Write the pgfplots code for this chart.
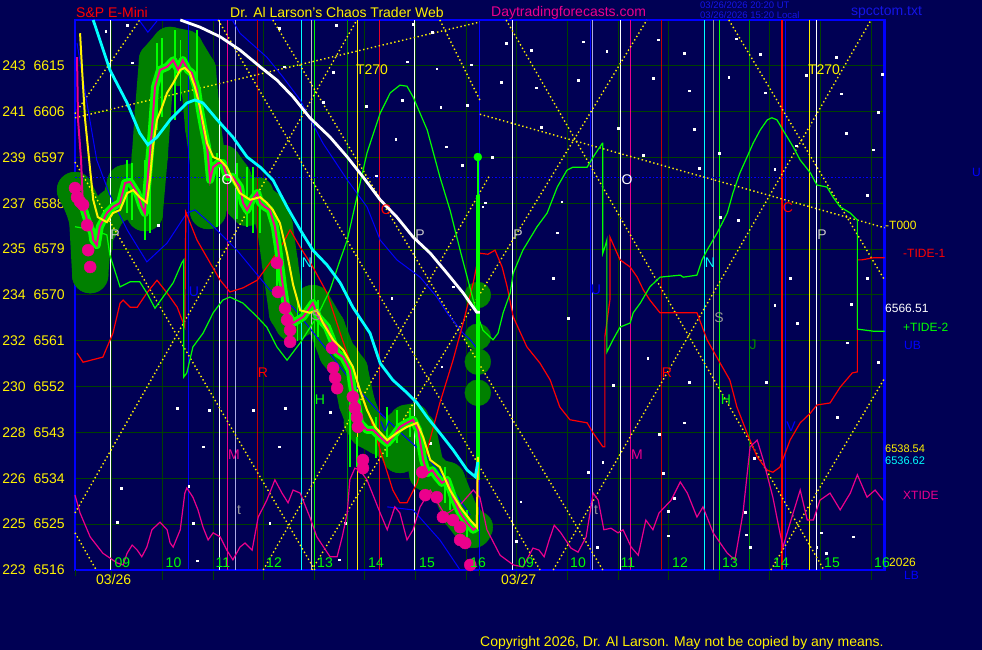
\documentclass[border=0pt]{standalone}
\usepackage{pgfplots}
\pgfplotsset{compat=1.18}
\usepackage{pgfplotstable}
\usepackage{fontspec}
\setmainfont{Liberation Sans}
\definecolor{bg}{RGB}{0,0,84}
\definecolor{gridg}{RGB}{0,64,0}
\definecolor{halo}{RGB}{0,128,0}
\definecolor{bgreen}{RGB}{0,255,0}
\definecolor{dred}{RGB}{192,0,0}
\definecolor{lav}{RGB}{170,170,230}
\definecolor{greyl}{RGB}{190,190,200}
\definecolor{lblue}{RGB}{0,0,255}
\definecolor{dgreen}{RGB}{0,140,0}
\definecolor{crim}{RGB}{230,0,40}
\definecolor{tblue}{RGB}{20,20,230}
\definecolor{ltgrey}{RGB}{200,200,200}
\definecolor{mgrey}{RGB}{150,150,150}
\definecolor{cyn}{RGB}{0,255,255}
\newcommand\fs{\fontsize{14bp}{16bp}\selectfont}
\newcommand\fss{\fontsize{12bp}{14bp}\selectfont}
\newcommand\fst{\fontsize{9.5bp}{11bp}\selectfont}
\newcommand\vl[2]{\addplot[#1,line width=1bp] coordinates {(#2,6516) (#2,6624)};}
\newcommand\spk[3]{\addplot[bgreen,line width=1.5bp] coordinates {(#1,#2) (#1,#3)};}
\newcommand\T[5]{\node[anchor=#1,text=#2,inner sep=0pt,font=\fs] at (#3bp,{650bp-#4bp}) {#5};}
\newcommand\Ts[5]{\node[anchor=#1,text=#2,inner sep=0pt,font=\fss] at (#3bp,{650bp-#4bp}) {#5};}
\pgfplotsset{ydot/.style={yellow, line width=1.4bp, dash pattern=on 1.4bp off 2.6bp, mark=none}}

\pgfplotstableread{
x y
0.04 6616.7
0.06 6604.4
0.12 6596.5
0.14 6591.2
0.16 6587.3
}\pricehead

\pgfplotstableread{
x y
0.16 6587.3
0.24 6584.7
0.34 6582.2
0.36 6580.8
0.43 6579.8
0.49 6583.4
0.63 6586.1
0.75 6587.3
0.89 6588.1
0.99 6592.0
1.09 6592.2
1.23 6590.0
1.32 6587.3
1.38 6586.1
1.44 6593.2
1.52 6602.4
1.58 6610.8
1.68 6614.2
1.82 6614.8
1.94 6616.1
2.04 6614.2
2.13 6616.1
2.23 6614.2
2.31 6613.6
2.41 6610.3
2.47 6606.3
2.53 6603.0
2.61 6599.1
2.67 6592.6
2.73 6595.1
2.83 6595.9
2.92 6595.9
3.00 6593.2
3.12 6593.2
3.26 6591.2
3.32 6588.1
3.40 6586.7
3.50 6588.7
3.60 6590.0
3.66 6588.1
3.75 6587.3
3.85 6586.7
3.95 6583.4
4.01 6579.4
4.05 6576.3
4.11 6571.6
4.19 6566.5
4.31 6564.5
4.51 6565.7
4.70 6568.4
4.80 6565.7
4.98 6563.7
5.08 6561.2
5.18 6558.6
5.30 6557.8
5.43 6555.3
5.49 6551.3
5.57 6548.8
5.63 6544.9
5.77 6543.5
5.89 6543.5
6.03 6542.1
6.17 6540.9
6.28 6542.1
6.42 6544.1
6.56 6544.9
6.68 6545.5
6.78 6543.5
6.88 6537.6
6.96 6535.0
7.06 6535.6
7.15 6534.3
7.25 6533.1
7.35 6533.7
7.47 6530.3
7.61 6527.2
7.75 6525.2
7.87 6523.9
7.94 6524.4
}\price

\pgfplotstableread{
x y
0.00 6590.6
0.16 6587.3
0.24 6584.7
0.30 6573.9
0.36 6580.8
0.49 6583.4
0.63 6586.1
0.75 6587.3
0.89 6588.1
0.99 6592.0
1.09 6592.2
1.23 6590.0
1.32 6587.3
1.38 6586.1
1.48 6597.5
1.54 6606.2
1.62 6616.1
1.88 6619.1
2.17 6618.5
2.43 6614.2
2.53 6603.0
2.63 6595.9
2.63 6586.5
2.73 6595.1
2.92 6595.9
3.12 6593.2
3.32 6588.1
3.50 6588.7
3.66 6588.1
3.85 6586.7
3.95 6583.4
4.05 6576.3
4.19 6566.5
4.31 6564.5
4.51 6565.7
4.70 6568.4
4.98 6563.7
5.18 6558.6
5.43 6555.3
5.57 6548.8
5.77 6543.5
6.03 6542.1
6.28 6542.1
6.42 6538.6
6.56 6544.9
6.78 6543.5
6.96 6535.0
7.15 6534.3
7.35 6533.7
7.61 6527.2
7.87 6523.9
}\halopath

\pgfplotstableread{
x y
0.10 6621.4
0.14 6614.2
0.20 6604.4
0.30 6594.5
0.36 6588.7
0.45 6585.3
0.63 6584.3
0.75 6586.1
0.89 6586.7
1.03 6590.0
1.15 6590.6
1.28 6589.2
1.42 6588.1
1.48 6592.6
1.54 6599.1
1.62 6604.4
1.72 6606.9
1.82 6609.7
1.94 6611.6
2.08 6614.2
2.17 6614.6
2.27 6613.6
2.37 6610.8
2.47 6606.9
2.61 6599.8
2.73 6597.1
2.87 6596.5
3.00 6595.1
3.12 6592.6
3.26 6590.0
3.46 6588.7
3.66 6589.2
3.79 6588.1
3.91 6586.7
4.05 6584.1
4.19 6578.2
4.31 6572.0
4.45 6567.0
4.64 6566.5
4.78 6567.0
4.90 6564.5
5.10 6561.2
5.30 6559.2
5.49 6555.9
5.63 6551.3
5.77 6547.4
5.93 6544.1
6.17 6541.5
6.36 6542.9
6.56 6544.1
6.76 6544.9
6.88 6542.1
7.02 6537.6
7.21 6536.2
7.41 6531.7
7.61 6528.4
7.81 6525.8
7.94 6524.4
7.96 6538.2
}\yellowma

\pgfplotstableread{
x y
0.36 6624.0
0.69 6614.2
1.03 6607.7
1.28 6601.8
1.44 6599.5
1.62 6601.0
1.88 6604.4
2.21 6607.7
2.37 6608.3
2.53 6607.7
2.81 6604.4
3.12 6601.0
3.40 6597.1
3.66 6595.1
3.91 6592.6
4.19 6587.3
4.45 6582.8
4.70 6578.8
4.98 6575.9
5.24 6572.4
5.49 6567.6
5.83 6562.5
6.03 6556.6
6.28 6553.3
6.56 6550.8
6.76 6548.8
6.96 6546.0
7.21 6542.9
7.47 6539.6
7.75 6535.6
7.91 6534.3
7.96 6537.2
}\cyanma

\pgfplotstableread{
x y
2.08 6624.0
2.47 6622.6
2.87 6620.7
3.26 6618.1
3.66 6614.8
3.99 6612.2
4.31 6608.9
4.64 6604.8
5.04 6601.0
5.38 6597.1
5.69 6593.2
6.03 6588.7
6.36 6585.3
6.68 6581.4
7.02 6578.2
7.35 6574.3
7.67 6570.4
7.94 6566.6
8.00 6566.6
}\whitema

\pgfplotstableread{
x y
0.04 6558.6
0.16 6556.8
0.55 6557.8
0.75 6562.5
0.89 6568.4
0.95 6569.0
1.09 6567.6
1.23 6567.6
1.42 6570.4
1.62 6572.9
1.82 6570.4
2.02 6567.6
2.17 6563.7
2.19 6586.3
2.23 6585.3
2.41 6580.8
2.67 6576.3
2.87 6572.9
3.06 6570.6
3.32 6571.4
3.60 6572.9
3.85 6576.3
4.11 6580.2
4.25 6582.8
4.45 6579.4
4.70 6575.5
4.98 6570.4
5.24 6562.5
5.49 6555.3
5.83 6546.0
6.03 6539.6
6.28 6531.7
6.42 6529.2
6.56 6529.2
6.76 6533.1
6.96 6539.6
7.21 6548.8
7.47 6557.2
7.67 6564.5
7.87 6572.4
7.96 6576.9
8.00 6578.2
8.16 6578.0
8.30 6578.8
8.44 6575.5
8.54 6571.6
8.66 6565.7
8.93 6559.8
9.19 6556.6
9.39 6553.3
9.58 6548.0
9.78 6545.5
10.12 6544.9
10.24 6542.9
10.43 6540.2
10.47 6540.2
10.47 6561.8
10.57 6569.0
10.57 6581.4
10.77 6576.9
10.97 6575.5
11.11 6573.5
11.23 6571.0
11.36 6569.0
11.56 6566.5
11.96 6566.5
12.29 6566.5
12.49 6561.2
12.75 6556.6
12.94 6553.3
13.08 6548.0
13.28 6542.9
13.48 6538.2
13.68 6535.6
13.79 6535.2
13.93 6536.2
14.13 6541.5
14.33 6544.9
14.53 6546.8
14.66 6548.4
14.92 6548.8
15.12 6551.9
15.36 6554.7
15.46 6554.9
15.46 6576.9
15.55 6576.9
15.77 6577.3
16.00 6577.3
}\tideone

\pgfplotstableread{
x y
0.00 6583.4
0.36 6582.8
0.63 6581.8
0.69 6577.8
0.89 6571.6
1.09 6572.6
1.28 6572.6
1.42 6570.4
1.58 6567.4
1.74 6569.6
1.94 6572.4
2.11 6576.3
2.15 6576.9
2.15 6553.9
2.21 6554.7
2.33 6559.8
2.53 6562.5
2.73 6566.5
2.92 6569.0
3.06 6569.6
3.32 6568.4
3.60 6565.7
3.79 6563.7
3.99 6559.8
4.19 6557.2
4.45 6560.6
4.78 6565.7
5.04 6571.0
5.24 6576.9
5.38 6580.8
5.57 6589.2
5.77 6597.9
6.03 6605.7
6.23 6609.7
6.42 6611.2
6.56 6611.0
6.68 6608.9
6.96 6602.4
7.21 6593.2
7.41 6586.7
7.61 6578.8
7.75 6573.5
7.87 6569.0
7.94 6566.5
8.06 6563.1
8.26 6561.2
8.36 6562.5
8.46 6566.5
8.60 6570.4
8.66 6574.3
8.85 6578.8
9.13 6583.4
9.33 6586.1
9.53 6591.2
9.72 6594.5
9.84 6595.1
10.12 6595.1
10.24 6597.1
10.42 6599.8
10.43 6599.8
10.43 6578.2
10.47 6579.4
10.51 6580.8
10.51 6558.8
10.63 6561.2
10.77 6563.7
10.97 6564.5
11.03 6566.5
11.17 6568.4
11.36 6571.6
11.56 6573.5
11.96 6573.9
12.02 6573.5
12.29 6573.9
12.39 6576.9
12.49 6578.8
12.69 6582.2
12.89 6586.1
13.00 6590.0
13.14 6594.0
13.28 6597.1
13.40 6599.8
13.54 6602.4
13.68 6604.4
13.77 6604.8
13.87 6604.4
13.99 6602.4
14.19 6599.1
14.33 6596.5
14.53 6594.0
14.66 6591.6
14.86 6591.2
14.98 6589.2
15.12 6587.3
15.32 6586.1
15.42 6585.1
15.46 6584.7
15.46 6563.3
15.77 6562.9
16.00 6562.9
}\tidetwo

\pgfplotstableread{
x y
0.00 6530.7
0.10 6527.2
0.30 6522.5
0.55 6519.3
0.83 6517.4
0.95 6517.0
1.03 6519.3
1.13 6520.9
1.23 6519.9
1.32 6518.6
1.42 6520.5
1.52 6523.9
1.68 6525.4
1.82 6523.9
1.88 6521.3
1.94 6520.5
2.08 6523.9
2.17 6531.1
2.21 6532.1
2.33 6530.3
2.43 6527.8
2.53 6524.4
2.63 6521.9
2.73 6523.3
2.87 6522.5
3.00 6519.9
3.12 6518.0
3.26 6520.5
3.36 6521.3
3.50 6519.9
3.62 6526.4
3.79 6529.7
3.95 6533.7
4.09 6531.1
4.21 6529.2
4.31 6531.7
4.45 6531.1
4.64 6526.4
4.78 6522.5
5.04 6518.6
5.18 6518.6
5.28 6522.5
5.38 6527.2
5.43 6533.7
5.53 6536.0
5.63 6535.6
5.77 6533.7
6.03 6527.2
6.17 6523.9
6.32 6528.4
6.42 6527.2
6.56 6521.9
6.68 6523.9
6.82 6528.4
7.02 6531.7
7.31 6526.8
7.61 6528.8
7.87 6531.7
8.00 6530.3
8.14 6523.9
8.40 6518.9
8.66 6517.0
8.85 6516.6
9.05 6520.3
9.17 6519.9
9.27 6518.6
9.37 6521.9
9.47 6524.8
9.60 6523.3
9.80 6520.3
9.94 6519.5
10.10 6522.5
10.24 6531.1
10.34 6529.7
10.45 6523.9
10.59 6524.2
10.73 6523.3
10.83 6523.9
10.99 6520.5
11.13 6518.9
11.28 6525.8
11.42 6523.9
11.54 6527.2
11.78 6529.7
11.96 6533.3
12.10 6531.1
12.29 6526.4
12.41 6528.4
12.61 6523.3
12.89 6519.3
13.04 6518.0
13.20 6527.2
13.34 6540.2
13.48 6541.5
13.60 6537.6
13.79 6530.3
13.93 6523.3
13.99 6520.5
14.13 6525.2
14.33 6531.7
14.47 6525.8
14.59 6525.8
14.72 6529.7
14.92 6531.1
15.12 6527.8
15.32 6531.1
15.46 6534.7
15.65 6530.3
15.81 6531.7
15.97 6529.7
}\xtide

\begin{document}
\begin{tikzpicture}
\fill[bg] (0,0) rectangle (982bp,650bp);
\begin{axis}[
  at={(75bp,80bp)}, anchor=south west, scale only axis,
  width=809.7bp, height=550bp,
  xmin=0, xmax=16, ymin=6516, ymax=6624,
  clip=false, clip marker paths=true,
  axis line style={draw=lblue, line width=2.5bp},
  xtick={0.73,1.73,2.73,3.73,4.73,5.73,6.73,7.73,8.73,9.73,10.73,11.73,12.73,13.73,14.73,15.73},
  xticklabels={},
  ytick={6516,6525,6534,6543,6552,6561,6570,6579,6588,6597,6606,6615},
  yticklabels={{223\hspace{8bp}6516},{225\hspace{8bp}6525},{226\hspace{8bp}6534},{228\hspace{8bp}6543},{230\hspace{8bp}6552},{232\hspace{8bp}6561},{234\hspace{8bp}6570},{235\hspace{8bp}6579},{237\hspace{8bp}6588},{239\hspace{8bp}6597},{241\hspace{8bp}6606},{243\hspace{8bp}6615}},
  grid=major, major grid style={draw=gridg, line width=1bp},
  tick align=outside, major tick length=10bp,
  xtick pos=bottom, ytick pos=left,
  xtick style={draw=gridg, line width=1bp},
  ytick style={draw=none},
  yticklabel style={text=yellow, font=\fs, inner sep=0pt},
  extra x ticks={0,8}, extra x tick labels={03/26,03/27},
  extra x tick style={grid=none, major tick length=6bp, tick style={draw=ltgrey, line width=1bp},
     xticklabel style={text=yellow, font=\fs, anchor=north west, inner sep=0pt, xshift=21bp, yshift=2bp}},
]
% halo
\addplot[halo, line width=36bp, line join=round, line cap=round] table {\halopath};
\addplot[only marks, mark=*, mark size=18bp, mark options={draw=halo, fill=halo}] table {\halopath};
\addplot[only marks, mark=*, mark size=16bp, mark options={draw=halo, fill=halo}] table {\price};
\addplot[only marks, mark=*, mark size=13bp, mark options={draw=halo, fill=halo}] coordinates {
(7.96,6570.0) (7.96,6561.8) (7.96,6556.9) (7.96,6550.8)};
% vertical lines
\vl{white}{0.70}
\vl{lblue}{2.24}
\vl{white}{2.85}
\vl{magenta}{3.01}
\vl{lav}{3.17}
\vl{dred}{3.60}
\vl{cyn}{4.47}
\vl{greyl}{4.68}
\vl{bgreen}{4.73}
\vl{dgreen}{5.39}
\vl{yellow}{5.58}
\vl{crim}{6.02}
\vl{white}{6.71}
\vl{lblue}{8.00}
\vl{white}{8.64}
\vl{lblue}{10.19}
\vl{lav}{10.23}
\vl{white}{10.78}
\vl{magenta}{10.97}
\vl{dred}{11.59}
\vl{cyn}{12.44}
\vl{mgrey}{12.61}
\vl{bgreen}{12.73}
\vl{dgreen}{13.33}
\addplot[red,line width=2bp] coordinates {(13.98,6516) (13.98,6624)};
\vl{lblue}{14.04}
\vl{yellow}{14.51}
\vl{white}{14.65}
% blue dotted horizontal
\addplot[lblue, line width=1bp, dash pattern=on 1.5bp off 2bp] coordinates {(0,6593.0) (16,6593.0)};
% dotted yellow lines
\addplot[ydot] coordinates {(0,6604.8) (8,6623.6)};
\addplot[ydot] coordinates {(0,6527.2) (5.57,6624)};
\addplot[ydot] coordinates {(0,6605.6) (1.28,6624)};
\addplot[ydot] coordinates {(0,6523.3) (0.42,6516)};
\addplot[ydot] coordinates {(2.83,6624) (9.19,6516)};
\addplot[ydot] coordinates {(0,6596.1) (4.74,6516)};
\addplot[ydot] coordinates {(3.72,6516) (8.20,6593.6)};
\addplot[ydot] coordinates {(7.21,6624) (8.00,6608.3)};
\addplot[ydot] coordinates {(8,6605.5) (16,6583.2)};
\addplot[ydot] coordinates {(8.52,6624) (14.80,6516)};
\addplot[ydot] coordinates {(4.68,6516) (11.30,6624)};
\addplot[ydot] coordinates {(3.91,6624) (10.43,6516)};
\addplot[ydot] coordinates {(9.45,6516) (15.73,6624)};
\addplot[ydot] coordinates {(12.92,6624) (16,6572.9)};
\addplot[ydot] coordinates {(13.75,6516) (16,6553.7)};
% stars
\addplot[only marks, mark=square*, mark size=0.8bp, white] coordinates {
(0.61,6621.8) (1.03,6623.0) (1.13,6615.6) (4.03,6622.4) (5.10,6613.8) (6.56,6615.8) (6.68,6623.2) (7.06,6621.6)
(7.23,6606.9) (7.75,6607.3) (7.83,6615.2) (8.52,6619.5) (9.01,6618.1) (8.42,6611.8) (9.11,6610.7) (9.94,6612.2)
(10.04,6619.7) (10.51,6617.9) (11.42,6612.6) (11.52,6620.1) (12.04,6617.5) (12.14,6610.1) (12.92,6612.8) (13.06,6620.3)
(13.54,6617.3) (13.64,6609.7) (14.45,6613.2) (15.04,6616.7) (15.14,6609.5) (15.87,6605.9) (15.95,6613.4) (9.21,6603.0)
(8.24,6597.1) (8.10,6588.1) (9.62,6588.3) (9.53,6582.2) (9.45,6573.3) (10.73,6602.8) (11.23,6597.5) (12.23,6602.6)
(12.33,6594.9) (12.73,6597.9) (12.75,6585.3) (13.10,6584.7) (13.83,6594.7) (14.25,6599.3) (15.24,6601.8) (15.65,6589.6)
(15.77,6598.5) (15.65,6573.3) (14.13,6573.3) (9.74,6565.5) (10.14,6535.2) (10.63,6552.3) (10.43,6537.2) (11.32,6557.6)
(11.54,6542.7) (11.62,6535.0) (12.04,6544.9) (12.14,6552.9) (11.72,6522.7) (13.42,6538.0) (13.66,6552.9) (13.83,6568.0)
(14.27,6564.5) (15.06,6546.0) (15.26,6560.6) (15.34,6568.2) (15.87,6556.8) (15.38,6522.5) (14.66,6520.5) (13.34,6520.5)
(1.64,6583.7) (2.02,6547.8) (2.65,6547.4) (2.53,6540.2) (2.25,6532.5) (2.41,6517.8) (3.52,6547.4) (4.03,6540.2)
(3.85,6525.2) (4.15,6547.8) (5.04,6547.0) (6.26,6569.4) (7.25,6555.9) (7.47,6571.6) (7.02,6540.9) (5.16,6623.0)
(4.13,6614.8) (4.90,6607.9) (5.75,6607.1) (7.15,6614.4) (6.46,6608.3) (6.34,6600.6) (7.33,6599.1) (7.65,6595.5)
(5.95,6593.4) (8.06,6587.3) (0.91,6532.1) (0.83,6525.4) (2.33,6525.2) (5.22,6518.0) (5.34,6525.2)
(8.81,6529.4) (8.72,6521.7) (10.32,6520.5) (11.84,6530.1) (11.72,6527.6) (13.24,6527.4) (13.26,6522.9) (14.74,6523.3) (14.84,6519.3)};
% blue lines
\addplot[lblue, line width=1bp] coordinates {(1.28,6623.8) (1.44,6621.6) (1.62,6623.8)};
\addplot[lblue, line width=1bp] coordinates {(3.12,6623.8) (3.26,6621.4) (3.79,6616.7) (4.11,6612.8) (4.45,6608.3) (4.90,6599.8) (5.38,6592.6) (5.77,6587.3) (6.03,6580.8) (6.36,6576.9) (6.82,6573.5) (7.15,6569.6) (7.35,6566.5) (7.67,6562.5) (7.81,6561.2) (8.00,6558.8)};
\addplot[lblue, line width=1bp] coordinates {(0.04,6619.5) (0.26,6606.3) (0.43,6596.5) (0.69,6589.6) (1.03,6582.8) (1.42,6576.5) (1.82,6580.2) (2.21,6586.1) (2.37,6586.7) (2.67,6584.1) (3.20,6578.8) (3.85,6571.0) (4.31,6567.6) (4.98,6559.2) (5.49,6552.7) (5.97,6547.4) (6.42,6543.1) (6.96,6538.2) (7.47,6531.7) (7.81,6526.8)};
\addplot[lblue, line width=1bp] coordinates {(6.17,6528.4) (6.68,6527.8) (7.21,6521.9) (7.61,6516.0)};
% tides
\addplot[red, line width=1.2bp] table {\tideone};
\addplot[bgreen, line width=1.2bp] table {\tidetwo};
\addplot[magenta, line width=1.2bp] table {\xtide};
% price bars
\addplot[bgreen, line width=8bp, line join=round] table {\price};
\spk{1.03}{6586.1}{6596.5}
\spk{1.13}{6584.7}{6595.9}
\spk{1.38}{6580.8}{6596.5}
\spk{1.48}{6582.2}{6604.4}
\spk{1.62}{6602.4}{6619.5}
\spk{1.72}{6605.0}{6620.5}
\spk{1.98}{6604.4}{6622.0}
\spk{2.08}{6608.0}{6620.0}
\spk{2.41}{6610.8}{6622.0}
\spk{2.81}{6583.4}{6597.9}
\spk{3.20}{6585.0}{6596.0}
\spk{3.40}{6583.4}{6595.1}
\spk{3.52}{6582.2}{6595.1}
\spk{3.66}{6582.2}{6590.0}
\spk{3.99}{6571.6}{6581.4}
\spk{4.40}{6561.0}{6569.5}
\spk{4.80}{6561.8}{6569.0}
\spk{5.43}{6536.2}{6549.4}
\spk{5.57}{6536.2}{6542.1}
\spk{5.95}{6538.0}{6546.0}
\spk{6.17}{6538.2}{6548.0}
\spk{6.36}{6540.9}{6547.4}
\spk{6.62}{6542.1}{6547.4}
\spk{7.31}{6529.2}{6536.2}
\spk{7.41}{6527.8}{6533.7}
\spk{7.75}{6522.5}{6527.8}
% forecast line
\addplot[bgreen, line width=1.5bp] coordinates {(7.96,6597.1) (7.96,6589.6)};
\addplot[bgreen, line width=4bp] coordinates {(7.96,6589.6) (7.96,6533.7)};
\addplot[only marks, mark=*, mark size=4bp, bgreen] coordinates {(7.96,6597.1)};
% price
\addplot[magenta, line width=2bp] table {\pricehead};
\addplot[magenta, line width=2bp] table {\price};
\addplot[magenta, line width=2bp] coordinates {(7.94,6524.4) (7.96,6537.6)};
\addplot[only marks, mark=*, mark size=6bp, magenta] coordinates {
(0.00,6591.0) (0.04,6589.2) (0.10,6588.3) (0.16,6587.7) (0.24,6583.7) (0.26,6578.8) (0.30,6575.5)
(3.99,6576.3) (4.01,6570.6) (4.15,6567.4) (4.19,6565.1) (4.25,6563.1) (4.25,6560.8)
(5.08,6559.6) (5.10,6555.7) (5.14,6553.7) (5.18,6551.7) (5.49,6550.0) (5.53,6547.8) (5.57,6546.0) (5.59,6544.1)
(5.69,6537.6) (5.69,6536.0) (6.86,6535.2) (6.92,6530.7) (7.15,6530.3) (7.27,6526.4) (7.47,6525.8) (7.61,6524.4)
(7.61,6521.9) (7.71,6521.3) (7.81,6517.0)};
\addplot[yellow, line width=2bp] table {\yellowma};
\addplot[cyn, line width=2.8bp] table {\cyanma};
\addplot[white, line width=2.8bp] table {\whitema};
\end{axis}
% titles
\T{west}{red}{76}{12.5}{S\&P E-Mini}
\T{west}{yellow}{230}{12.5}{Dr. Al Larson's Chaos Trader Web}
\T{west}{magenta}{491}{12.5}{Daytradingforecasts.com}
\node[anchor=west,text=tblue,inner sep=0pt,font=\fst] at (700bp,{650bp-5.5bp}) {03/26/2026 20:20 UT};
\node[anchor=west,text=tblue,inner sep=0pt,font=\fst] at (700bp,{650bp-15.5bp}) {03/26/2026 15:20 Local};
\T{west}{tblue}{851}{12}{spcctom.txt}
\T{west}{yellow}{480}{643}{Copyright 2026, Dr. Al Larson. May not be copied by any means.}
% hour labels
\foreach \xx/\hh in {122.5/09,173.5/10,223/11,274/12,325/13,376/14,427/15,478/16,526/09,578/10,628/11,680/12,730/13,781/14,832/15,882/16}{
  \node[text=bgreen,inner sep=0pt,font=\fs] at (\xx bp,{650bp-563bp}) {\hh};}
% in-plot letters
\T{center}{ltgrey}{115}{235}{P}
\T{center}{white}{227}{180}{O}
\T{center}{lblue}{194}{292}{U}
\T{center}{red}{263}{373}{R}
\T{center}{magenta}{234}{455}{M}
\T{center}{mgrey}{239}{510}{t}
\T{center}{cyn}{307}{263}{N}
\T{center}{mgrey}{316}{316}{S}
\T{center}{bgreen}{320}{400}{H}
\T{center}{lblue}{385}{427}{V}
\T{center}{red}{386}{210}{C}
\T{center}{ltgrey}{420}{235}{P}
\T{center}{yellow}{372}{70}{T270}
\T{center}{ltgrey}{518}{235}{P}
\T{center}{lblue}{596}{290}{U}
\T{center}{white}{627}{180}{O}
\T{center}{cyn}{710}{263}{N}
\T{center}{mgrey}{719}{318}{S}
\T{center}{red}{667}{373}{R}
\T{center}{magenta}{637}{455}{M}
\T{center}{mgrey}{596}{510}{t}
\T{center}{bgreen}{726}{400}{H}
\T{center}{dgreen}{753}{345}{J}
\T{center}{lblue}{791}{427}{V}
\T{center}{red}{788}{208}{C}
\T{center}{ltgrey}{822}{235}{P}
\T{center}{yellow}{824}{70}{T270}
% right labels
\Ts{west}{lblue}{972}{172}{U}
\Ts{west}{yellow}{885}{225}{-T000}
\Ts{west}{red}{903}{253}{-TIDE-1}
\Ts{west}{white}{885}{308}{6566.51}
\Ts{west}{bgreen}{903}{327}{+TIDE-2}
\Ts{west}{lblue}{904}{345}{UB}
\node[anchor=west,text=yellow,inner sep=0pt,font=\fontsize{11bp}{12bp}\selectfont] at (885bp,{650bp-448.5bp}) {6538.54};
\node[anchor=west,text=cyn,inner sep=0pt,font=\fontsize{11bp}{12bp}\selectfont] at (885bp,{650bp-461bp}) {6536.62};
\Ts{west}{magenta}{903}{495}{XTIDE}
\Ts{west}{yellow}{889}{562}{2026}
\Ts{west}{lblue}{904}{575}{LB}
\pgfresetboundingbox
\path[use as bounding box] (0,0) rectangle (982bp,650bp);
\end{tikzpicture}
\end{document}
